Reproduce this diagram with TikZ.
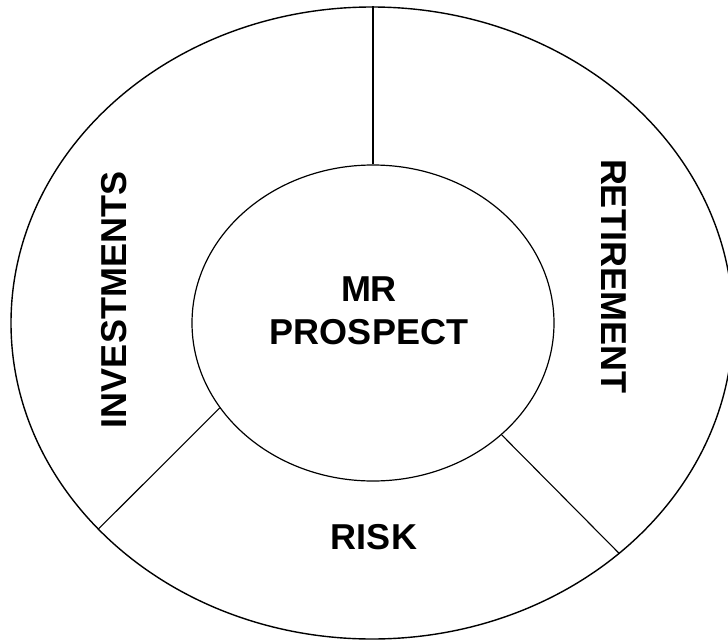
\documentclass[tikz,border=0pt]{standalone}
\usepackage{fontspec}
\setmainfont{Liberation Sans}
\usetikzlibrary{shapes.geometric}
\begin{document}
\begin{tikzpicture}[x=1pt,y=-1pt,
  ring/.style={ellipse,draw,inner sep=0pt,line width=1.4pt},
  divider/.style={line width=1.1pt},
  lbl/.style={font=\fontsize{36}{43}\selectfont\bfseries,inner sep=0pt,align=center}]
\useasboundingbox (0,0) rectangle (728,642);
\clip (0,0) rectangle (728,642);
\node[ring,minimum width=722pt,minimum height=632pt] (outer) at (372,323) {};
\node[ring,minimum width=362pt,minimum height=316pt,line width=1.2pt] (inner) at (373,323) {};
\node[lbl] (center) at (369,311) {MR\\PROSPECT};
\node[lbl,rotate=90] (inv) at (114,300) {INVESTMENTS};
\node[lbl,rotate=-90] (ret) at (614,276) {RETIREMENT};
\node[lbl] (risk) at (374,537) {RISK};
\draw[divider] (inner.90) -- (inner.90 |- outer.north);
\draw[divider] (inner.209.8) -- (outer.217);
\draw[divider] (inner.319.8) -- (outer.317.6);
\end{tikzpicture}
\end{document}
